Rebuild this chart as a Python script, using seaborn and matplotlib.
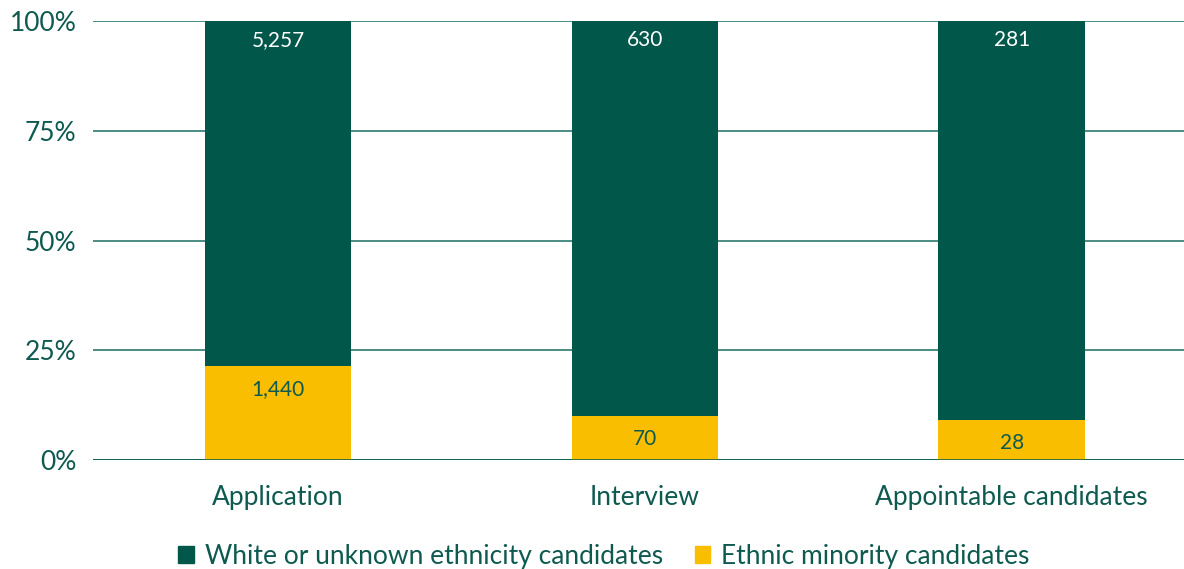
import pandas as pd
import matplotlib
matplotlib.use("Agg")
import matplotlib.pyplot as plt
import seaborn as sns
from matplotlib.patches import Patch
from matplotlib.ticker import PercentFormatter

stages = ["Application", "Interview", "Appointable candidates"]
white_counts = [5257, 630, 281]
minority_counts = [1440, 70, 28]

GREEN = "#02574B"
YELLOW = "#F9BE00"
TEXT = "#0E5A50"

sns.set_theme(style="white")
plt.rcParams["font.family"] = ["Lato", "DejaVu Sans"]

df = pd.DataFrame({"stage": stages, "white": white_counts, "minority": minority_counts})
df["total"] = df["white"] + df["minority"]
df["minority_share"] = df["minority"] / df["total"]
df["all_share"] = 1.0

fig = plt.figure(figsize=(11.84, 5.69), dpi=100)
ax = fig.add_axes([0.0785, 0.1916, 0.9215, 0.7714])

sns.barplot(data=df, x="stage", y="all_share", color=GREEN, width=0.4,
            saturation=1, linewidth=0, ax=ax, zorder=3)
sns.barplot(data=df, x="stage", y="minority_share", color=YELLOW, width=0.4,
            saturation=1, linewidth=0, ax=ax, zorder=3)

ax.set_ylim(0, 1)
ax.set_xlim(-0.505, 2.47)
ax.set_yticks([0, 0.25, 0.5, 0.75, 1.0])
ax.yaxis.set_major_formatter(PercentFormatter(1.0, decimals=0))
ax.grid(axis="y", color="#3C8579", lw=1.3, zorder=0)
ax.axhline(0, color=GREEN, lw=1.8, zorder=4)
for s in ax.spines.values():
    s.set_visible(False)
ax.set_xlabel("")
ax.set_ylabel("")
ax.tick_params(axis="both", length=0, labelsize=19, labelcolor=TEXT)
ax.tick_params(axis="x", pad=18)
ax.tick_params(axis="y", pad=12)

# value labels near the top of each segment
for i, row in df.iterrows():
    ax.annotate(f"{row['white']:,}", (i, 1.0), xytext=(0, -19), textcoords="offset pixels",
                ha="center", va="center", color="white", fontsize=15, zorder=5)
    ax.annotate(f"{row['minority']:,}", (i, row["minority_share"]), xytext=(0, -23),
                textcoords="offset pixels", ha="center", va="center", color=TEXT,
                fontsize=15, zorder=5)

handles = [Patch(color=GREEN, label="White or unknown ethnicity candidates"),
           Patch(color=YELLOW, label="Ethnic minority candidates")]
fig.legend(handles=handles, loc="center", bbox_to_anchor=(0.51, 0.022), ncol=2,
           frameon=False, fontsize=19, labelcolor=TEXT, handlelength=0.6,
           handleheight=0.6, handletextpad=0.4, columnspacing=1.2)

fig.savefig("out.png", dpi=100)
